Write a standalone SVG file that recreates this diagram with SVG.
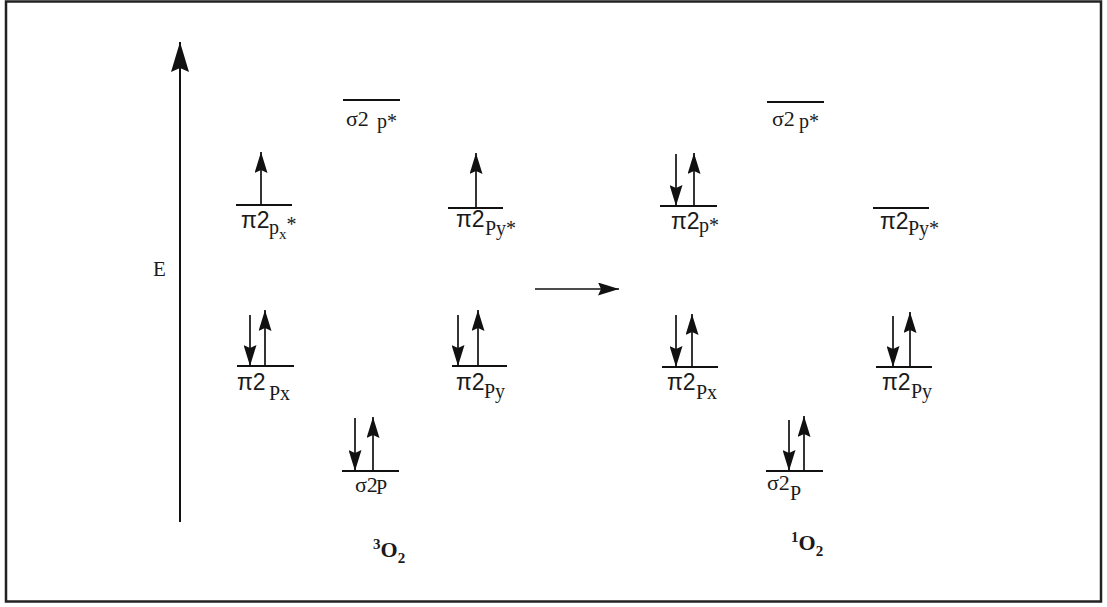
<svg xmlns="http://www.w3.org/2000/svg" width="1107" height="607" viewBox="0 0 1107 607">
<defs>
<style>
.lvl{stroke:#111;stroke-width:2;fill:none}
.arr{stroke:#111;stroke-width:1.7;fill:none;marker-end:url(#head)}
.sans{font-family:"Liberation Sans",Arial,sans-serif;fill:#1a1a1a}
.serif{font-family:"Liberation Serif","Times New Roman",serif;fill:#1a1a1a}
.big{font-size:23px}
.sig{font-size:22px}
.sub{font-size:20px}
.lbl{font-size:22px;font-weight:bold}
</style>
<marker id="head" markerUnits="userSpaceOnUse" markerWidth="21" markerHeight="13" refX="21" refY="6.5" orient="auto" viewBox="0 0 21 13">
<path d="M0,0 L21,6.5 L0,13 L3,6.5 Z" fill="#111"/>
</marker>
<marker id="headE" markerUnits="userSpaceOnUse" markerWidth="30" markerHeight="18" refX="30" refY="9" orient="auto" viewBox="0 0 30 18">
<path d="M0,0 L30,9 L0,18 L4,9 Z" fill="#111"/>
</marker>
</defs>
<rect x="6" y="1.5" width="1095" height="600" fill="#fff" stroke="#222" stroke-width="2.5"/>

<g id="connectors">
<line id="energy-axis" x1="180" y1="522" x2="180" y2="42" stroke="#111" stroke-width="2" marker-end="url(#headE)"/>
<line id="transition" x1="535" y1="289" x2="619" y2="289" class="arr" stroke-width="2"/>
</g>

<text id="E-label" x="153" y="276" class="serif" font-size="21">E</text>

<g id="sigma2pstar-3O2">
<line class="lvl" x1="343" y1="100" x2="400" y2="100"/>
<text class="serif" y="126"><tspan x="346" class="sig">σ2</tspan><tspan x="377" y="128" class="sub">p*</tspan></text>
</g>

<g id="pi2pxstar-3O2">
<line class="lvl" x1="236" y1="205" x2="292" y2="205"/>
<line class="arr" x1="261" y1="205" x2="261" y2="152"/>
<text y="228"><tspan x="241" class="sans big">π2</tspan><tspan x="269" y="234" class="serif sub">p</tspan><tspan y="239" class="serif" font-size="15">x</tspan><tspan y="231" class="serif sub">*</tspan></text>
</g>

<g id="pi2pystar-3O2">
<line class="lvl" x1="448" y1="208" x2="503" y2="208"/>
<line class="arr" x1="476" y1="208" x2="476" y2="153"/>
<text y="227"><tspan x="456" class="sans big">π2</tspan><tspan x="485" y="235" class="serif sub">Py*</tspan></text>
</g>

<g id="pi2px-3O2">
<line class="lvl" x1="237" y1="366" x2="294" y2="366"/>
<line class="arr" x1="250" y1="315" x2="250" y2="366"/>
<line class="arr" x1="265" y1="366" x2="265" y2="310"/>
<text y="390"><tspan x="237" class="sans big">π2</tspan><tspan x="269" y="400" class="serif sub">Px</tspan></text>
</g>

<g id="pi2py-3O2">
<line class="lvl" x1="452" y1="366" x2="507" y2="366"/>
<line class="arr" x1="458" y1="315" x2="458" y2="366"/>
<line class="arr" x1="478" y1="366" x2="478" y2="310"/>
<text y="390"><tspan x="456" class="sans big">π2</tspan><tspan x="484" y="398" class="serif sub">Py</tspan></text>
</g>

<g id="sigma2p-3O2">
<line class="lvl" x1="342" y1="471" x2="399" y2="471"/>
<line class="arr" x1="355" y1="418" x2="355" y2="471"/>
<line class="arr" x1="373" y1="471" x2="373" y2="417"/>
<text class="serif" y="492"><tspan x="355" class="sig">σ2</tspan><tspan x="376" y="494" class="sub">P</tspan></text>
</g>

<g id="label-3O2">
<text class="serif lbl" y="557"><tspan x="373" y="549" font-size="15">3</tspan><tspan y="557">O</tspan><tspan y="563" font-size="15">2</tspan></text>
</g>

<g id="sigma2pstar-1O2">
<line class="lvl" x1="767" y1="102" x2="824" y2="102"/>
<text class="serif" y="126"><tspan x="772" class="sig">σ2</tspan><tspan x="799" y="128" class="sub">p*</tspan></text>
</g>

<g id="pi2pstar-1O2">
<line class="lvl" x1="660" y1="206" x2="717" y2="206"/>
<line class="arr" x1="676" y1="154" x2="676" y2="206"/>
<line class="arr" x1="694" y1="206" x2="694" y2="153"/>
<text y="229"><tspan x="671" class="sans big">π2</tspan><tspan x="699" y="232" class="serif sub">p*</tspan></text>
</g>

<g id="pi2pystar-1O2">
<line class="lvl" x1="873" y1="208" x2="929" y2="208"/>
<text y="229"><tspan x="880" class="sans big">π2</tspan><tspan x="908" y="235" class="serif sub">Py*</tspan></text>
</g>

<g id="pi2px-1O2">
<line class="lvl" x1="662" y1="367" x2="718" y2="367"/>
<line class="arr" x1="676" y1="315" x2="676" y2="367"/>
<line class="arr" x1="692" y1="367" x2="692" y2="314"/>
<text y="390"><tspan x="667" class="sans big">π2</tspan><tspan x="696" y="399" class="serif sub">Px</tspan></text>
</g>

<g id="pi2py-1O2">
<line class="lvl" x1="876" y1="367" x2="932" y2="367"/>
<line class="arr" x1="893" y1="316" x2="893" y2="367"/>
<line class="arr" x1="910" y1="367" x2="910" y2="312"/>
<text y="390"><tspan x="882" class="sans big">π2</tspan><tspan x="911" y="398" class="serif sub">Py</tspan></text>
</g>

<g id="sigma2p-1O2">
<line class="lvl" x1="766" y1="471" x2="823" y2="471"/>
<line class="arr" x1="789" y1="420" x2="789" y2="471"/>
<line class="arr" x1="804" y1="471" x2="804" y2="416"/>
<text class="serif" y="490"><tspan x="767" class="sig">σ2</tspan><tspan x="790" y="500" class="sub">P</tspan></text>
</g>

<g id="label-1O2">
<text class="serif lbl" y="550"><tspan x="791" y="542" font-size="15">1</tspan><tspan y="550">O</tspan><tspan y="556" font-size="15">2</tspan></text>
</g>
</svg>
